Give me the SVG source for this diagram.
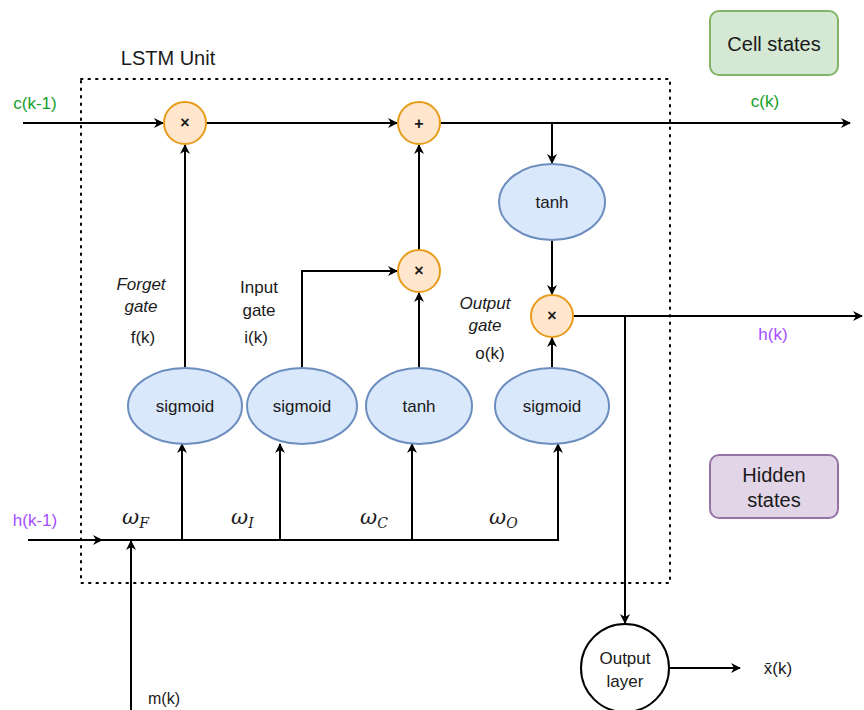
<svg xmlns="http://www.w3.org/2000/svg" width="864" height="710" viewBox="0 0 864 710">
<defs>
<marker id="ah" viewBox="0 0 10 10" refX="9" refY="5" markerWidth="10" markerHeight="10" markerUnits="userSpaceOnUse" orient="auto"><path d="M0,0 L10,5 L0,10 L3,5 Z" fill="#000"/></marker>
<style>
text{font-family:"Liberation Sans",Arial,sans-serif;fill:#1a1a1a}
.c{font-size:17px;text-anchor:middle}
.big{font-size:20px}
.x{font-size:16px;font-weight:bold}
.op{fill:#ffe6cc;stroke:#e69c1a;stroke-width:2}
.el{fill:#dae8fc;stroke:#6c8ebf;stroke-width:2}
.ln{stroke:#000;stroke-width:2;fill:none}
.ar{marker-end:url(#ah)}
.w{font-family:"DejaVu Serif","Liberation Serif",serif;font-style:italic;font-size:21px}
.ws{font-family:"DejaVu Serif","Liberation Serif",serif;font-style:italic;font-size:14px}
.it{font-style:italic}
.g{fill:#14a02a}
.p{fill:#a64dff}
</style>
</defs>
<rect width="864" height="710" fill="#fff"/>
<rect x="81" y="79" width="589" height="504" fill="none" stroke="#000" stroke-width="2" stroke-dasharray="1.5 6" stroke-linecap="round"/>
<text x="168" y="65" class="c big">LSTM Unit</text>

<g id="connectors">
<path class="ln ar" d="M23,123 H163"/>
<path class="ln ar" d="M206,123 H397"/>
<path class="ln ar" d="M440,123 H850"/>
<path class="ln ar" d="M552,123 V163"/>
<path class="ln ar" d="M552,240 V294"/>
<path class="ln ar" d="M419,250 V145"/>
<path class="ln ar" d="M185,368 V145"/>
<path class="ln ar" d="M302,368 V271 H397"/>
<path class="ln ar" d="M419,368 V293"/>
<path class="ln ar" d="M552,368 V338"/>
<path class="ln ar" d="M573,316 H862"/>
<path class="ln ar" d="M625,316 V623"/>
<path class="ln ar" d="M669,668 H740"/>
<path class="ln" d="M28,540 H558 V444"/>
<path class="ln ar" d="M28,540 H102"/>
<path class="ln ar" d="M131,710 V541"/>
<path class="ln ar" d="M182,540 V444"/>
<path class="ln ar" d="M280,540 V444"/>
<path class="ln ar" d="M412,540 V444"/>
<path class="ln ar" d="M558,540 V444"/>
</g>

<g id="mul1"><circle class="op" cx="185" cy="123" r="21"/><text x="185" y="128" class="c x">×</text></g>
<g id="add"><circle class="op" cx="419" cy="123" r="21"/><text x="419" y="129" class="c x">+</text></g>
<g id="mul2"><circle class="op" cx="419" cy="271" r="21"/><text x="419" y="276" class="c x">×</text></g>
<g id="mul3"><circle class="op" cx="552" cy="316" r="21"/><text x="552" y="321" class="c x">×</text></g>

<g id="tanh-cell"><ellipse class="el" cx="552" cy="202" rx="53" ry="38"/><text x="552" y="208" class="c">tanh</text></g>
<g id="sig-f"><ellipse class="el" cx="185" cy="406" rx="57" ry="38"/><text x="185" y="412" class="c">sigmoid</text></g>
<g id="sig-i"><ellipse class="el" cx="302" cy="406" rx="55" ry="38"/><text x="302" y="412" class="c">sigmoid</text></g>
<g id="tanh-c"><ellipse class="el" cx="419" cy="406" rx="53" ry="38"/><text x="419" y="412" class="c">tanh</text></g>
<g id="sig-o"><ellipse class="el" cx="552" cy="406" rx="57" ry="38"/><text x="552" y="412" class="c">sigmoid</text></g>

<g id="output-layer"><circle cx="625" cy="668" r="44" fill="#fff" stroke="#000" stroke-width="2"/><text x="625" y="664" class="c">Output</text><text x="625" y="687" class="c">layer</text></g>

<g id="cell-states"><rect x="710" y="11" width="128" height="64" rx="9" fill="#d5e8d4" stroke="#82b366" stroke-width="2"/><text x="774" y="51" class="c big">Cell states</text></g>
<g id="hidden-states"><rect x="710" y="455" width="128" height="63" rx="9" fill="#e1d5e7" stroke="#9673a6" stroke-width="2"/><text x="774" y="482" class="c big">Hidden</text><text x="774" y="507" class="c big">states</text></g>

<g id="labels">
<text x="35" y="109" class="c g">c(k-1)</text>
<text x="765" y="107" class="c g">c(k)</text>
<text x="35" y="526" class="c p">h(k-1)</text>
<text x="773" y="340" class="c p">h(k)</text>
<text x="164" y="704" class="c" style="font-size:16px">m(k)</text>
<text x="778" y="674" class="c">x̄(k)</text>
<text x="141" y="290" class="c it">Forget</text>
<text x="141" y="312" class="c it">gate</text>
<text x="143" y="343" class="c">f(k)</text>
<text x="259" y="293" class="c">Input</text>
<text x="259" y="316" class="c">gate</text>
<text x="256" y="343" class="c">i(k)</text>
<text x="485" y="309" class="c it">Output</text>
<text x="485" y="331" class="c it">gate</text>
<text x="490" y="359" class="c">o(k)</text>
<text x="122" y="524" class="w">ω<tspan class="ws" dy="4">F</tspan></text>
<text x="231" y="524" class="w">ω<tspan class="ws" dy="4">I</tspan></text>
<text x="360" y="524" class="w">ω<tspan class="ws" dy="4">C</tspan></text>
<text x="489" y="524" class="w">ω<tspan class="ws" dy="4">O</tspan></text>
</g>
</svg>
